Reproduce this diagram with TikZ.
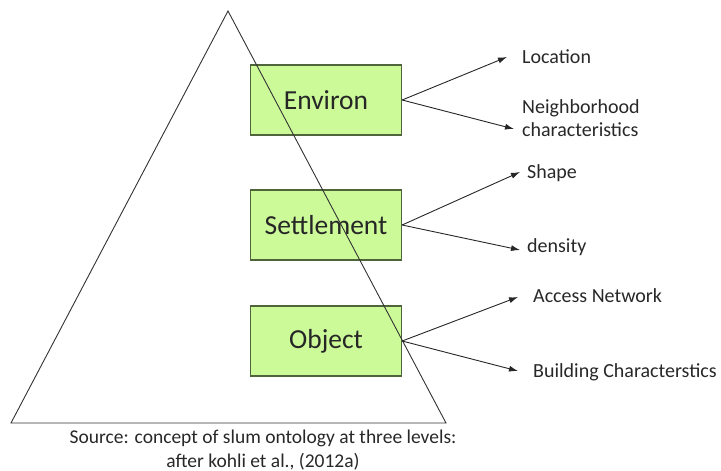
\documentclass[tikz,border=0pt]{standalone}
\usepackage{fontspec}
\setmainfont{Carlito}
\usetikzlibrary{arrows.meta}
\definecolor{boxfill}{RGB}{204,250,153}
\definecolor{boxline}{RGB}{80,100,60}
\definecolor{inkgray}{RGB}{40,40,40}
\tikzset{
  x=1pt, y=-1pt,
  level/.style={draw=boxline, line width=1.3pt, fill=boxfill, minimum width=151pt,
    minimum height=70pt, inner sep=0pt, text=black!85, font=\fontsize{27.5}{30}\selectfont},
  lbl/.style={anchor=west, inner sep=0pt, text=inkgray, align=left,
    font=\fontsize{20}{23}\selectfont},
  link/.style={draw=black!85, line width=0.9pt, -{Latex[length=9pt,width=6pt]}},
  pyramid/.style={draw=black!80, line width=0.9pt}
}
\begin{document}
\begin{tikzpicture}
\useasboundingbox (0,0) rectangle (721,471);

% three ontology levels
\node[level] (env) at (326,100) {Environ};
\node[level] (set) at (326,225) {Settlement};
\node[level] (obj) at (326,341) {Object};

% pyramid outline, drawn over the boxes
\coordinate (apex) at (228,11);
\coordinate (bl) at (11,423);
\coordinate (br) at (446,423);
\draw[pyramid] (apex) -- (bl) -- (br) -- cycle;

% indicators of each level
\coordinate (envA) at (507,57);
\coordinate (envB) at (514,129);
\node[lbl] (loc) at (522,57) {Location};
\node[lbl] (nbh) at (522,118) {Neighborhood\\characteristics};

\coordinate (setA) at (520,172);
\coordinate (setB) at (520,250);
\node[lbl] (shp) at (527,173) {Shape};
\node[lbl] (den) at (527,247) {density};

\coordinate (objA) at (518,297);
\coordinate (objB) at (518,371);
\node[lbl] (acc) at (533,296) {Access Network};
\node[lbl] (bld) at (533,372) {Building Characterstics};

\draw[link] (env.east) -- (envA);
\draw[link] (env.east) -- (envB);
\draw[link] (set.east) -- (setA);
\draw[link] (set.east) -- (setB);
\draw[link] (obj.east) -- (objA);
\draw[link] (obj.east) -- (objB);

% caption
\node[align=center, inner sep=0pt, text=inkgray, font=\fontsize{19.5}{24}\selectfont] (src) at (263,450)
  {Source: concept of slum ontology at three levels:\\after kohli et al., (2012a)};
\end{tikzpicture}
\end{document}
